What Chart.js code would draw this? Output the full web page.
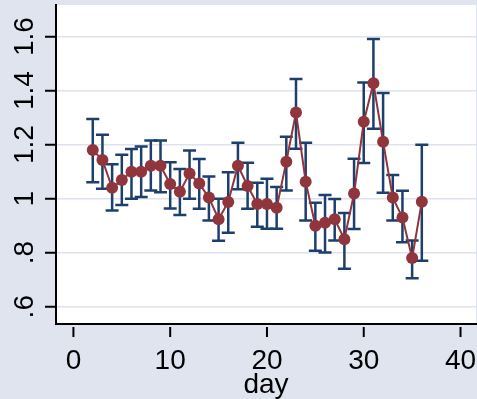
<!DOCTYPE html>
<html>
<head>
<meta charset="utf-8">
<script src="https://cdn.jsdelivr.net/npm/chart.js@4.4.1/dist/chart.umd.min.js"></script>
<style>
  html, body { margin: 0; padding: 0; background: #dfe4ef; }
  #wrap { width: 477px; height: 399px; }
</style>
</head>
<body>
<div id="wrap"><canvas id="myChart" width="477" height="399"></canvas></div>
<script>
// daily mean with lower / upper interval
const days = [2, 3, 4, 5, 6, 7, 8, 9, 10, 11, 12, 13, 14, 15, 16, 17, 18, 19,
              20, 21, 22, 23, 24, 25, 26, 27, 28, 29, 30, 31, 32, 33, 34, 35, 36];
const meanVals = [1.180, 1.143, 1.040, 1.069, 1.100, 1.100, 1.122, 1.122, 1.054, 1.026,
                  1.093, 1.056, 1.004, 0.924, 0.988, 1.122, 1.047, 0.980, 0.980, 0.966,
                  1.137, 1.319, 1.063, 0.900, 0.911, 0.924, 0.850, 1.019, 1.285, 1.427,
                  1.211, 1.004, 0.930, 0.780, 0.989];
const lowerVals = [1.061, 1.037, 0.956, 0.977, 1.000, 1.006, 1.030, 1.024, 0.964, 0.940,
                   1.000, 0.963, 0.919, 0.844, 0.874, 1.035, 0.963, 0.896, 0.889, 0.889,
                   1.030, 1.185, 0.919, 0.807, 0.801, 0.845, 0.741, 0.888, 1.132, 1.259,
                   1.022, 0.919, 0.839, 0.705, 0.770];
const upperVals = [1.295, 1.237, 1.127, 1.163, 1.184, 1.193, 1.215, 1.215, 1.135, 1.110,
                   1.178, 1.147, 1.082, 1.000, 1.098, 1.207, 1.133, 1.059, 1.074, 1.043,
                   1.229, 1.443, 1.207, 0.985, 1.014, 0.999, 0.947, 1.148, 1.430, 1.591,
                   1.391, 1.088, 1.029, 0.845, 1.200];

const xTicks = [0, 10, 20, 30, 40];
const yTicks = [0.6, 0.8, 1.0, 1.2, 1.4, 1.6];
const yTickLabels = ['.6', '.8', '1', '1.2', '1.4', '1.6'];

const bgColor = '#dfe4ef';
const gridColor = '#dde2ee';
const maroon = '#90353b';
const navy = '#1c3f6e';
const fontFamily = '"Liberation Sans", Arial, sans-serif';
const fontSize = 28;

Chart.defaults.font.family = fontFamily;

// page background + white plot region
const backdrop = {
  id: 'backdrop',
  beforeDraw(chart) {
    const { ctx, chartArea: a } = chart;
    ctx.save();
    ctx.fillStyle = bgColor;
    ctx.fillRect(0, 0, chart.width, chart.height);
    ctx.fillStyle = '#fff';
    ctx.fillRect(a.left, a.top, a.right - a.left, a.bottom - a.top);
    ctx.restore();
  }
};

// capped range bars, drawn under the connected line
const errorBars = {
  id: 'errorBars',
  beforeDatasetsDraw(chart) {
    const { ctx, scales: { x, y } } = chart;
    const capHalf = 6.5;
    ctx.save();
    ctx.strokeStyle = navy;
    ctx.lineWidth = 2.5;
    days.forEach((d, i) => {
      const px = x.getPixelForValue(d);
      const top = y.getPixelForValue(upperVals[i]);
      const bot = y.getPixelForValue(lowerVals[i]);
      ctx.beginPath();
      ctx.moveTo(px, top); ctx.lineTo(px, bot);
      ctx.moveTo(px - capHalf, top); ctx.lineTo(px + capHalf, top);
      ctx.moveTo(px - capHalf, bot); ctx.lineTo(px + capHalf, bot);
      ctx.stroke();
    });
    ctx.restore();
  }
};

// x ticks sit a little below the axis line; y labels run vertically
const axisDecor = {
  id: 'axisDecor',
  afterDraw(chart) {
    const { ctx, scales: { x, y }, chartArea: a } = chart;
    ctx.save();
    ctx.strokeStyle = '#000';
    ctx.fillStyle = '#000';
    ctx.lineWidth = 2;
    ctx.font = fontSize + 'px ' + fontFamily;
    ctx.textAlign = 'center';
    ctx.textBaseline = 'alphabetic';
    xTicks.forEach(v => {
      const px = x.getPixelForValue(v);
      ctx.beginPath();
      ctx.moveTo(px, a.bottom + 3);
      ctx.lineTo(px, a.bottom + 13);
      ctx.stroke();
      ctx.fillText(String(v), px, a.bottom + 45);
    });
    yTicks.forEach((v, i) => {
      const py = y.getPixelForValue(v);
      ctx.save();
      ctx.translate(a.left - 23, py);
      ctx.rotate(-Math.PI / 2);
      ctx.fillText(yTickLabels[i], 0, 0);
      ctx.restore();
    });
    ctx.restore();
  }
};

const config = {
  type: 'line',
  data: {
    datasets: [{
      data: days.map((d, i) => ({ x: d, y: meanVals[i] })),
      borderColor: maroon,
      borderWidth: 2,
      backgroundColor: maroon,
      pointBackgroundColor: maroon,
      pointBorderWidth: 0,
      pointRadius: 6,
      tension: 0
    }]
  },
  options: {
    responsive: false,
    animation: false,
    devicePixelRatio: 1,
    layout: { autoPadding: false, padding: { top: 5, right: 1, left: 0, bottom: 0 } },
    plugins: { legend: { display: false }, tooltip: { enabled: false } },
    scales: {
      x: {
        type: 'linear',
        min: -1.8,
        max: 41.6,
        afterBuildTicks: s => { s.ticks = xTicks.map(v => ({ value: v })); },
        afterFit: s => { s.height = 75; },
        grid: { display: false, drawTicks: false },
        border: { display: true, color: '#000', width: 2 },
        ticks: { display: false },
        title: {
          display: true,
          text: 'day',
          color: '#000',
          font: { size: fontSize, lineHeight: 1 },
          padding: 0
        }
      },
      y: {
        min: 0.536,
        max: 1.717,
        afterBuildTicks: s => { s.ticks = yTicks.map(v => ({ value: v })); },
        afterFit: s => { s.width = 56; },
        grid: {
          color: gridColor,
          lineWidth: 1.5,
          drawTicks: true,
          tickLength: 11,
          tickColor: '#000',
          tickWidth: 2
        },
        border: { display: true, color: '#000', width: 2 },
        ticks: { display: false }
      }
    }
  },
  plugins: [backdrop, errorBars, axisDecor]
};

new Chart(document.getElementById('myChart'), config);
</script>
</body>
</html>
